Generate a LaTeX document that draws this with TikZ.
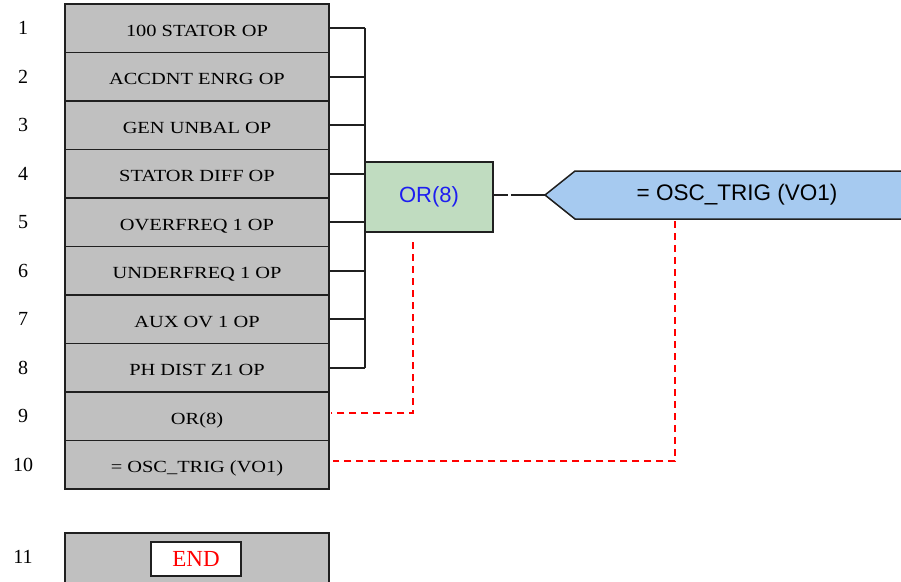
\documentclass[tikz,border=0pt]{standalone}
\usepackage{fontspec}
\setmainfont{Liberation Serif}
\newfontfamily\lblfont[FakeStretch=1.2]{Liberation Serif}
\newfontfamily\sansf{Liberation Sans}
\definecolor{rowgray}{HTML}{C0C0C0}
\definecolor{orgreen}{HTML}{C0DCC0}
\definecolor{trigblue}{HTML}{A6CAF0}
\definecolor{edge}{HTML}{202020}
\definecolor{lblue}{HTML}{1E1EF0}
\tikzset{
  rowbox/.style={draw=edge, line width=1.5pt, fill=rowgray, minimum width=264pt, minimum height=48.5pt, inner sep=0pt, text height=16pt, text depth=0pt, font=\fontsize{17}{19}\lblfont},
  rownum/.style={font=\fontsize{20}{22}\selectfont, inner sep=0pt},
  wire/.style={draw=edge, line width=1.6pt},
  reddash/.style={draw=red, line width=1.8pt, dash pattern=on 7pt off 5pt}
}
\begin{document}
\begin{tikzpicture}[x=1pt,y=-1pt]
\useasboundingbox (0,0) rectangle (901,581);
% rows
\foreach \i/\t in {1/100 STATOR OP,2/ACCDNT ENRG OP,3/GEN UNBAL OP,4/STATOR DIFF OP,5/OVERFREQ 1 OP,6/UNDERFREQ 1 OP,7/AUX OV 1 OP,8/PH DIST Z1 OP,9/OR(8),10/= OSC\_TRIG (VO1)}{
  \node[rowbox] (r\i) at (197,{4+48.5*(\i-0.5)}) {\t};
  \node[rownum] (n\i) at (23,{4+48.5*(\i-0.5)}) {\i};
}
\node[rowbox, minimum height=50pt] (r11) at (197,558) {};
\node[rownum] (n11) at (23,557) {11};
\node[draw=edge, line width=1.5pt, fill=white, minimum width=90pt, minimum height=34pt, inner sep=0pt, text=red, font=\fontsize{23}{25}\selectfont] (endbox) at (196,559) {END};
% bus
\coordinate (busx) at (365,0);
\foreach \i in {1,...,8}{
  \draw[wire] (r\i.east) -- (r\i.east -| busx);
}
\draw[wire] (r1.east -| busx) -- (r8.east -| busx);
% OR gate
\node[draw=edge, line width=1.5pt, fill=orgreen, minimum width=128pt, minimum height=70pt, inner sep=0pt, text=lblue, font=\fontsize{22}{24}\sansf] (or) at (429,197) {OR(8)};
% output
\coordinate (tip) at (545,195);
\path[draw=edge, line width=1.5pt, fill=trigblue] (tip) -- (575,171) -- (904,171) -- (904,219) -- (575,219) -- cycle;
\node[inner sep=0pt, font=\fontsize{22.5}{24}\sansf] (trig) at (737,195) {= OSC\_TRIG (VO1)};
\draw[wire, dash pattern=on 14pt off 3pt on 200pt] (or.east |- tip) -- (tip);
% feedback dashed lines
\coordinate (orleg) at (413,242);
\coordinate (trigleg) at (675,221);
\draw[reddash] (orleg) |- ([yshift=3pt,xshift=1pt]r9.east);
\draw[reddash] (trigleg) |- ([yshift=3.5pt,xshift=3pt]r10.east);
\end{tikzpicture}
\end{document}
